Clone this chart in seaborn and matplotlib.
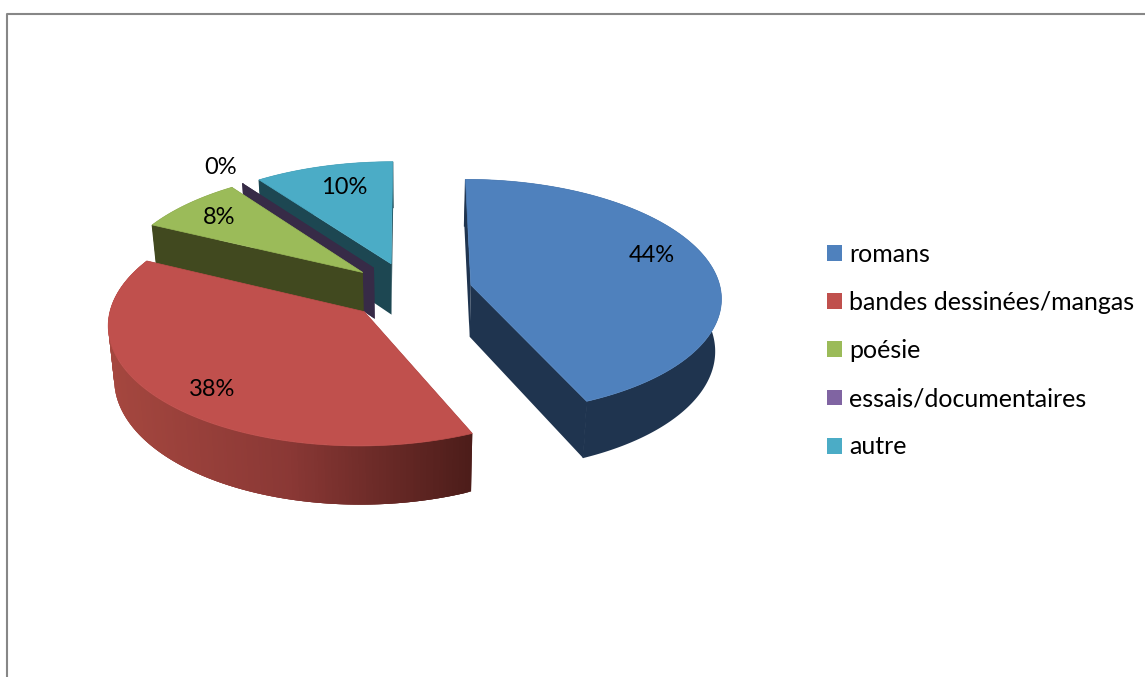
import numpy as np
import matplotlib
matplotlib.use('Agg')
import matplotlib.pyplot as plt
from matplotlib.patches import Patch
from matplotlib.colors import LinearSegmentedColormap
import seaborn as sns

categories = ['romans', 'bandes dessinées/mangas', 'poésie', 'essais/documentaires', 'autre']
values = [43.4, 38.8, 7.8, 0.0, 10.0]
pct_labels = ['44%', '38%', '8%', '0%', '10%']
top_colors = ['#4f81bd', '#c0504d', '#9bbb59', '#8064a2', '#4bacc6']
side_colors = ['#1f344f', '#a5473f', '#41491f', '#372b47', '#1d4752']
label_pos = [(652, 256), (212, 389), (219, 218), (221, 167), (344, 188)]

# perspective of the pie, in pixels
X0, Y0, RX, RY, PERSP, DEPTH, EXPLODE = 410, 291, 250, 117, 0.097, 52, 0.25

sns.set_theme(style='white')
plt.rcParams['font.family'] = ['Lato', 'DejaVu Sans']

fig = plt.figure(figsize=(11.45, 6.77), dpi=100)
ax = fig.add_axes([0, 0, 1, 1])
ax.set_xlim(0, 1145)
ax.set_ylim(677, 0)
ax.axis('off')

# chart frame
ax.plot([6.5, 6.5, 1145], [677, 13.5, 13.5], color='#878787', lw=1.5, solid_capstyle='butt')


def project(X, Y, low=False):
    d = 1 + PERSP * Y
    x = X0 + RX * X / d
    y = Y0 - RY * Y / d
    if low:
        x = X0 + (x - X0) * 0.98
        y = y + DEPTH / d
    return x, y


red_rim = LinearSegmentedColormap.from_list('red_rim', ['#a5473f', '#8a3835', '#4d1d1a'])
ends = np.cumsum(values) * 3.6
starts = ends - np.array(values) * 3.6

# back slices first so the front ones cover them
for i in [4, 3, 2, 1, 0]:
    mid = np.radians((starts[i] + ends[i]) / 2)
    ex, ey = EXPLODE * np.sin(mid), EXPLODE * np.cos(mid)
    th = np.radians(np.linspace(starts[i], ends[i], 200))
    X, Y = ex + np.sin(th), ey + np.cos(th)
    cut_color = side_colors[i] if i != 1 else '#4d1d1a'

    # the two cut faces
    for k in [0, -1]:
        ax_, ay_ = project(ex, ey)
        bx_, by_ = project(ex, ey, low=True)
        cx_, cy_ = project(X[k], Y[k])
        dx_, dy_ = project(X[k], Y[k], low=True)
        ax.fill([ax_, cx_, dx_, bx_], [ay_, cy_, dy_, by_], color=cut_color, lw=0)

    # outer rim
    tx, ty = project(X, Y)
    lx, ly = project(X, Y, low=True)
    if i == 1:
        # overlapping strips, no seams between them
        for j in range(len(th) - 1):
            pos = (tx[j] - tx.min()) / (tx.max() - tx.min())
            j2 = min(j + 3, len(th) - 1)
            ax.fill(np.r_[tx[j:j2 + 1], lx[j:j2 + 1][::-1]], np.r_[ty[j:j2 + 1], ly[j:j2 + 1][::-1]],
                    color=red_rim(pos), lw=0)
    else:
        ax.fill(np.r_[tx, lx[::-1]], np.r_[ty, ly[::-1]], color=side_colors[i], lw=0)
        # hide the seam where rim meets cut face (fill, so it stays under the slices in front)
        ax.fill([tx[0], lx[0]], [ty[0], ly[0]], color=side_colors[i], lw=0.8)
        ax.fill([tx[-1], lx[-1]], [ty[-1], ly[-1]], color=side_colors[i], lw=0.8)

    # top of the slice
    ax_, ay_ = project(ex, ey)
    if values[i] > 0:
        ax.fill(np.r_[ax_, tx], np.r_[ay_, ty], color=top_colors[i], lw=0.5)

for lab, (px, py) in zip(pct_labels, label_pos):
    ax.text(px, py, lab, ha='center', va='center', fontsize=17, color='black')

handles = [Patch(facecolor=c, edgecolor='none', label=n) for c, n in zip(top_colors, categories)]
fs = 18
leg = ax.legend(handles=handles, loc='upper left', bbox_to_anchor=(827 / 1145, 1 - 243 / 677),
                frameon=False, fontsize=fs, borderpad=0, borderaxespad=0, labelcolor='black',
                handlelength=10.8 / fs, handleheight=10.8 / fs, handletextpad=0.28, labelspacing=1.004)

fig.savefig('out.png', dpi=100, facecolor='white')
